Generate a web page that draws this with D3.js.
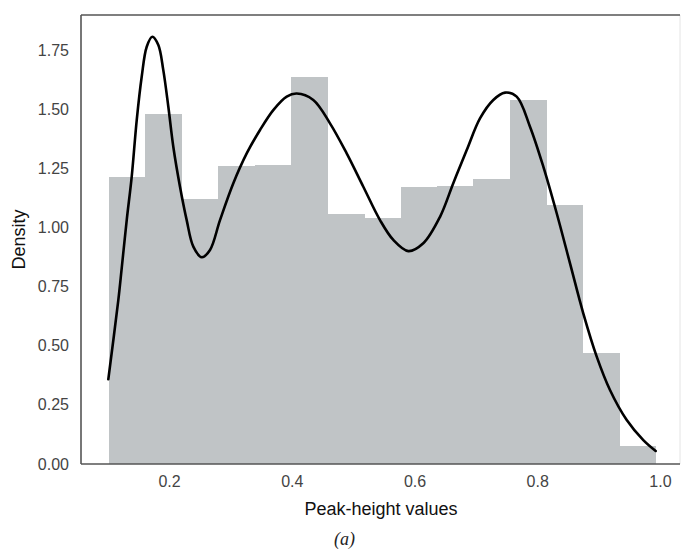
<!DOCTYPE html>
<html>
<head>
<meta charset="utf-8">
<script src="https://cdn.jsdelivr.net/npm/d3@7"></script>
<style>
  html, body { margin: 0; padding: 0; background: #fff; }
  svg { display: block; }
</style>
</head>
<body>
<svg id="chart" width="681" height="551"></svg>
<script>
// ---- data ----
const binEdges = [0.102, 0.1614, 0.2208, 0.2802, 0.3396, 0.399, 0.4584, 0.5178,
                  0.5772, 0.6366, 0.696, 0.7554, 0.8148, 0.8742, 0.9336, 0.993];
const binDensity = [1.215, 1.479, 1.121, 1.258, 1.266, 1.636, 1.056, 1.039,
                    1.169, 1.176, 1.206, 1.540, 1.093, 0.468, 0.076];
const kdeX = [0.1011, 0.1174, 0.1229, 0.1311, 0.1392, 0.1474, 0.1555, 0.1637, 0.1728, 0.1826,
              0.1907, 0.1989, 0.2070, 0.2179, 0.2288, 0.2396, 0.2533, 0.2668, 0.2831, 0.3048,
              0.3266, 0.3483, 0.3699, 0.3918, 0.4081, 0.4351, 0.4623, 0.4895, 0.5166, 0.5438,
              0.5655, 0.5899, 0.6143, 0.6416, 0.6632, 0.6851, 0.7067, 0.7284, 0.7475, 0.7665,
              0.7882, 0.8099, 0.8317, 0.8534, 0.8750, 0.8969, 0.9185, 0.9458, 0.9728, 0.9930];
const kdeY = [0.358, 0.693, 0.827, 1.031, 1.214, 1.454, 1.637, 1.764, 1.806, 1.771,
              1.665, 1.510, 1.341, 1.172, 1.031, 0.919, 0.874, 0.905, 1.031, 1.187,
              1.313, 1.412, 1.496, 1.553, 1.566, 1.539, 1.440, 1.313, 1.172, 1.031,
              0.947, 0.900, 0.933, 1.045, 1.187, 1.327, 1.461, 1.539, 1.570, 1.553,
              1.426, 1.257, 1.060, 0.848, 0.637, 0.454, 0.313, 0.186, 0.101, 0.055];
const xTicks = [0.2, 0.4, 0.6, 0.8, 1.0];
const yTicks = [0.00, 0.25, 0.50, 0.75, 1.00, 1.25, 1.50, 1.75];
const xLabel = "Peak-height values";
const yLabel = "Density";
const caption = "(a)";

// ---- layout ----
const W = 681, H = 551;
const m = { left: 81, top: 15, right: 1, bottom: 87 };
const pw = W - m.left - m.right, ph = H - m.top - m.bottom;

const svg = d3.select("#chart");
const g = svg.append("g").attr("transform", `translate(${m.left},${m.top})`);

const x = d3.scaleLinear().domain([0.0566, 1.0326]).range([0, pw]);
const y = d3.scaleLinear().domain([0, 1.898]).range([ph, 0]);

// bars
const bins = binDensity.map((d, i) => ({ x0: binEdges[i], x1: binEdges[i + 1], v: d }));
g.selectAll("rect.bar").data(bins).enter().append("rect")
  .attr("class", "bar")
  .attr("x", d => x(d.x0))
  .attr("width", d => x(d.x1) - x(d.x0) + 0.6)
  .attr("y", d => y(d.v))
  .attr("height", d => y(0) - y(d.v))
  .attr("shape-rendering", "crispEdges")
  .attr("fill", "#c0c4c6");

// kde line
const pts = kdeX.map((v, i) => [v, kdeY[i]]);
g.append("path")
  .datum(pts)
  .attr("fill", "none")
  .attr("stroke", "#000")
  .attr("stroke-width", 2.6)
  .attr("stroke-linejoin", "round")
  .attr("stroke-linecap", "round")
  .attr("d", d3.line().x(d => x(d[0])).y(d => y(d[1])).curve(d3.curveCatmullRom.alpha(0.5)));

// axes
const fontSans = "'Liberation Sans', Arial, Helvetica, sans-serif";
const xAxis = g.append("g").attr("transform", `translate(0,${ph})`)
  .call(d3.axisBottom(x).tickValues(xTicks).tickFormat(d3.format(".1f")).tickSize(0).tickPadding(12));
const yAxis = g.append("g")
  .call(d3.axisLeft(y).tickValues(yTicks).tickFormat(d3.format(".2f")).tickSize(0).tickPadding(12));
[xAxis, yAxis].forEach(a => {
  a.select(".domain").remove();
  a.selectAll("text").attr("font-family", fontSans).attr("font-size", 16).attr("fill", "#444");
});

// spines
g.append("line").attr("x1", pw).attr("x2", pw).attr("y1", 0).attr("y2", ph)
  .attr("stroke", "#e4e4e4").attr("stroke-width", 1);
g.append("line").attr("x1", 0).attr("x2", pw).attr("y1", 0).attr("y2", 0)
  .attr("stroke", "#555").attr("stroke-width", 1.6);
g.append("line").attr("x1", 0).attr("x2", pw).attr("y1", ph).attr("y2", ph)
  .attr("stroke", "#555").attr("stroke-width", 1.6);
g.append("line").attr("x1", 0).attr("x2", 0).attr("y1", 0).attr("y2", ph)
  .attr("stroke", "#555").attr("stroke-width", 1.6);

// labels
svg.append("text")
  .attr("x", 381).attr("y", 515)
  .attr("text-anchor", "middle")
  .attr("font-family", fontSans).attr("font-size", 18).attr("fill", "#111")
  .text(xLabel);
svg.append("text")
  .attr("transform", `translate(25,${m.top + ph / 2}) rotate(-90)`)
  .attr("text-anchor", "middle")
  .attr("font-family", fontSans).attr("font-size", 18).attr("fill", "#111")
  .text(yLabel);
svg.append("text")
  .attr("x", 344.5).attr("y", 545)
  .attr("text-anchor", "middle")
  .attr("font-family", "'Liberation Serif', 'Times New Roman', serif")
  .attr("font-style", "italic")
  .attr("font-size", 18).attr("fill", "#222")
  .text(caption);
</script>
</body>
</html>
